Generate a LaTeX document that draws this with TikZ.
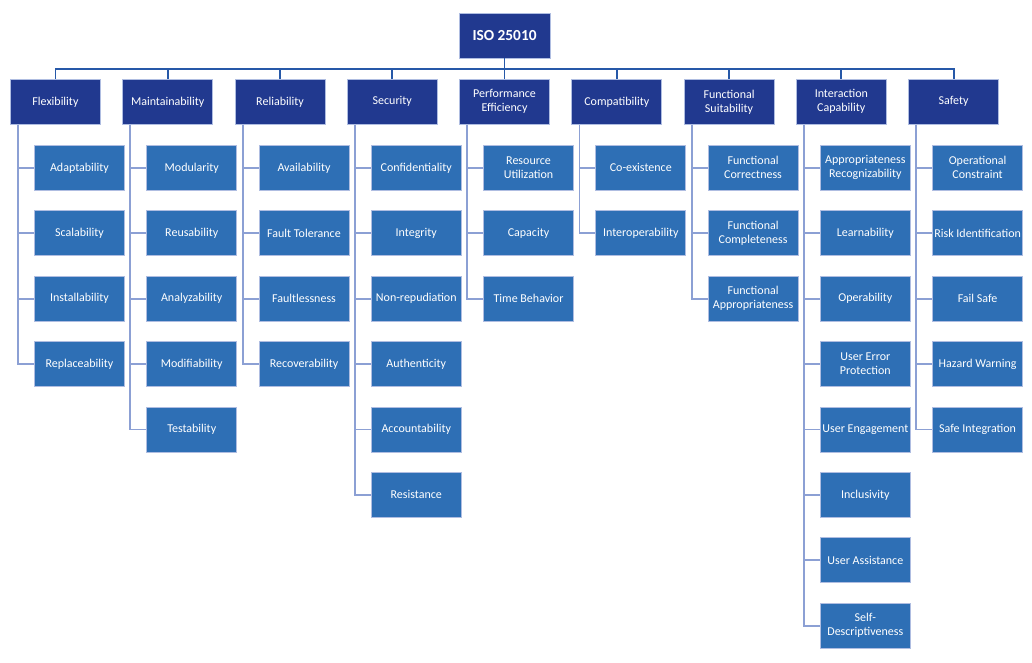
\documentclass[tikz,border=0pt]{standalone}
\usepackage{fontspec}
\setmainfont{Carlito}
\usetikzlibrary{positioning,calc}
\definecolor{isonavy}{RGB}{33,57,143}
\definecolor{isoblue}{RGB}{46,111,181}
\definecolor{isoline}{RGB}{140,160,212}
\definecolor{isobus}{RGB}{38,88,168}
\tikzset{
    root/.style={
        rectangle,
        fill=isonavy,
        draw=isoline!70,
        line width=0.5pt,
        text=white,
        align=center,
        font=\bfseries\fontsize{11.5}{13}\selectfont,
        minimum width=68pt,
        minimum height=33.75pt,
        inner sep=1pt,
    },
    facet/.style={
        rectangle,
        fill=isonavy,
        draw=isoline!70,
        line width=0.5pt,
        text=white,
        align=center,
        font=\fontsize{9}{10.5}\selectfont,
        minimum width=67.5pt,
        minimum height=33.75pt,
        inner sep=1pt,
    },
    sub/.style={
        facet,
        fill=isoblue,
    },
    bus/.style={
        draw=isobus,
        line width=1.4pt,
    },
    link/.style={
        draw=isoline,
        line width=1.4pt,
    },
}
\begin{document}
\begin{tikzpicture}
    \useasboundingbox (0,0) rectangle (774pt,-496.5pt);
    \node[root] (iso) at (378.4pt,-26.6pt) {ISO 25010};
    % second level
    \node[facet,below=15.5pt of iso](perf) {Performance\\Efficiency};
    \node[facet,left=16.2pt of perf](sec) {Security};
    \node[facet,left=16.2pt of sec](rel) {Reliability};
    \node[facet,left=16.2pt of rel](maint) {Maintainability};
    \node[facet,left=16.2pt of maint](flex) {Flexibility};
    \node[facet,right=16.2pt of perf](comp) {Compatibility};
    \node[facet,right=16.2pt of comp](func) {Functional\\Suitability};
    \node[facet,right=16.2pt of func](inter) {Interaction\\Capability};
    \node[facet,right=16.2pt of inter](safe) {Safety};
    % flexibility
    \node[sub,below=15.3pt of flex,xshift=18pt](flex1) {Adaptability};
    \node[sub,below=14.8pt of flex1](flex2) {Scalability};
    \node[sub,below=14.8pt of flex2](flex3) {Installability};
    \node[sub,below=14.8pt of flex3](flex4) {Replaceability};
    % maintainability
    \node[sub,below=15.3pt of maint,xshift=18pt](maint1) {Modularity};
    \node[sub,below=14.8pt of maint1](maint2) {Reusability};
    \node[sub,below=14.8pt of maint2](maint3) {Analyzability};
    \node[sub,below=14.8pt of maint3](maint4) {Modifiability};
    \node[sub,below=14.8pt of maint4](maint5) {Testability};
    % reliability
    \node[sub,below=15.3pt of rel,xshift=18pt](rel1) {Availability};
    \node[sub,below=14.8pt of rel1](rel2) {Fault Tolerance};
    \node[sub,below=14.8pt of rel2](rel3) {Faultlessness};
    \node[sub,below=14.8pt of rel3](rel4) {Recoverability};
    % security
    \node[sub,below=15.3pt of sec,xshift=18pt](sec1) {Confidentiality};
    \node[sub,below=14.8pt of sec1](sec2) {Integrity};
    \node[sub,below=14.8pt of sec2](sec3) {Non-repudiation};
    \node[sub,below=14.8pt of sec3](sec4) {Authenticity};
    \node[sub,below=14.8pt of sec4](sec5) {Accountability};
    \node[sub,below=14.8pt of sec5](sec6) {Resistance};
    % performance efficiency
    \node[sub,below=15.3pt of perf,xshift=18pt](perf1) {Resource\\Utilization};
    \node[sub,below=14.8pt of perf1](perf2) {Capacity};
    \node[sub,below=14.8pt of perf2](perf3) {Time Behavior};
    % compatibility
    \node[sub,below=15.3pt of comp,xshift=18pt](comp1) {Co-existence};
    \node[sub,below=14.8pt of comp1](comp2) {Interoperability};
    % functional suitability
    \node[sub,below=15.3pt of func,xshift=18pt](func1) {Functional\\Correctness};
    \node[sub,below=14.8pt of func1](func2) {Functional\\Completeness};
    \node[sub,below=14.8pt of func2](func3) {Functional\\Appropriateness};
    % interaction capability
    \node[sub,below=15.3pt of inter,xshift=18pt](inter1) {Appropriateness\\Recognizability};
    \node[sub,below=14.8pt of inter1](inter2) {Learnability};
    \node[sub,below=14.8pt of inter2](inter3) {Operability};
    \node[sub,below=14.8pt of inter3](inter4) {User Error\\Protection};
    \node[sub,below=14.8pt of inter4](inter5) {User Engagement};
    \node[sub,below=14.8pt of inter5](inter6) {Inclusivity};
    \node[sub,below=14.8pt of inter6](inter7) {User Assistance};
    \node[sub,below=14.8pt of inter7](inter8) {Self-\\Descriptiveness};
    % safety
    \node[sub,below=15.3pt of safe,xshift=18pt](safe1) {Operational\\Constraint};
    \node[sub,below=14.8pt of safe1](safe2) {Risk Identification};
    \node[sub,below=14.8pt of safe2](safe3) {Fail Safe};
    \node[sub,below=14.8pt of safe3](safe4) {Hazard Warning};
    \node[sub,below=14.8pt of safe4](safe5) {Safe Integration};
    % bus from the root
    \coordinate (busmid) at ($(iso.south)!0.5!(perf.north)$);
    \draw[bus] (iso.south) -- (busmid);
    \draw[bus] (busmid) -| (flex.north) (busmid) -| (maint.north) (busmid) -| (rel.north)
        (busmid) -| (sec.north) (busmid) -| (perf.north) (busmid) -| (comp.north)
        (busmid) -| (func.north) (busmid) -| (inter.north) (busmid) -| (safe.north);
    % side connectors
    \coordinate (flexv) at ([xshift=6pt]flex.south west);
    \coordinate (maintv) at ([xshift=6pt]maint.south west);
    \coordinate (relv) at ([xshift=6pt]rel.south west);
    \coordinate (secv) at ([xshift=6pt]sec.south west);
    \coordinate (perfv) at ([xshift=6pt]perf.south west);
    \coordinate (compv) at ([xshift=6pt]comp.south west);
    \coordinate (funcv) at ([xshift=6pt]func.south west);
    \coordinate (interv) at ([xshift=6pt]inter.south west);
    \coordinate (safev) at ([xshift=6pt]safe.south west);
    \draw[link] (flexv) |- (flex1.west) (flexv) |- (flex2.west) (flexv) |- (flex3.west) (flexv) |- (flex4.west);
    \draw[link] (maintv) |- (maint1.west) (maintv) |- (maint2.west) (maintv) |- (maint3.west)
        (maintv) |- (maint4.west) (maintv) |- (maint5.west);
    \draw[link] (relv) |- (rel1.west) (relv) |- (rel2.west) (relv) |- (rel3.west) (relv) |- (rel4.west);
    \draw[link] (secv) |- (sec1.west) (secv) |- (sec2.west) (secv) |- (sec3.west)
        (secv) |- (sec4.west) (secv) |- (sec5.west) (secv) |- (sec6.west);
    \draw[link] (perfv) |- (perf1.west) (perfv) |- (perf2.west) (perfv) |- (perf3.west);
    \draw[link] (compv) |- (comp1.west) (compv) |- (comp2.west);
    \draw[link] (funcv) |- (func1.west) (funcv) |- (func2.west) (funcv) |- (func3.west);
    \draw[link] (interv) |- (inter1.west) (interv) |- (inter2.west) (interv) |- (inter3.west)
        (interv) |- (inter4.west) (interv) |- (inter5.west) (interv) |- (inter6.west)
        (interv) |- (inter7.west) (interv) |- (inter8.west);
    \draw[link] (safev) |- (safe1.west) (safev) |- (safe2.west) (safev) |- (safe3.west)
        (safev) |- (safe4.west) (safev) |- (safe5.west);
\end{tikzpicture}
\end{document}
